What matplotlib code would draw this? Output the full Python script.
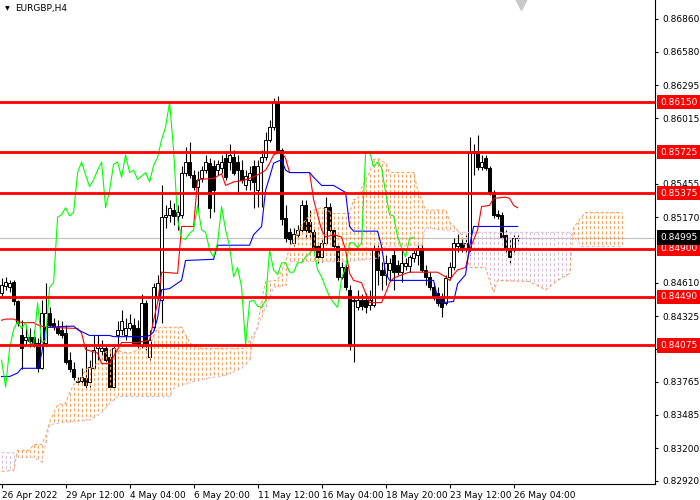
import numpy as np
import matplotlib
matplotlib.use("Agg")
import matplotlib.pyplot as plt
from matplotlib.transforms import blended_transform_factory

# EURGBP H4 with Ichimoku
opens = [
    .8452, .8458, .8457, .8462, .8445, .8416, .8412, .8415, .8415, .8410,
    .8388, .8410, .8435, .8427, .8423, .8421, .8418, .8395, .8387, .8376,
    .8377, .8380, .8376, .8388, .8405, .8403, .8405, .8398, .8372, .8416,
    .8421, .8416, .8422, .8425, .8422, .8407, .8444, .8398, .8423, .8449,
    .8446, .8517, .8519, .8523, .8518, .8519, .8555, .8564, .8553, .8543,
    .8550, .8557, .8563, .8561, .8557, .8559, .8567, .8564, .8568, .8564,
    .8557, .8544, .8549, .8561, .8540, .8564, .8568, .8583, .8594, .8615,
    .8574, .8516, .8504, .8495, .8502, .8506, .8527, .8513, .8504, .8492,
    .8483, .8495, .8526, .8506, .8492, .8466, .8474, .8455, .8446, .8440,
    .8446, .8446, .8442, .8442, .8489, .8472, .8468, .8472, .8485, .8476,
    .8470, .8475, .8475, .8482, .8485, .8491, .8472, .8466, .8457, .8452,
    .8449, .8444, .8466, .8474, .8492, .8495, .8491, .8491, .8572, .8573,
    .8560, .8567, .8559, .8538, .8520, .8519, .8502, .8491, .8491, .8499,
]
closes = [
    .8459, .8462, .8461, .8445, .8427, .8405, .8415, .8411, .8410, .8388,
    .8435, .8435, .8425, .8423, .8418, .8416, .8393, .8387, .8381, .8377,
    .8381, .8374, .8389, .8404, .8408, .8405, .8395, .8372, .8405, .8421,
    .8428, .8422, .8427, .8410, .8408, .8444, .8410, .8412, .8457, .8461,
    .8517, .8519, .8525, .8518, .8521, .8555, .8564, .8553, .8543, .8549,
    .8557, .8564, .8525, .8540, .8562, .8564, .8551, .8570, .8555, .8557,
    .8549, .8552, .8555, .8547, .8561, .8568, .8583, .8594, .8615, .8574,
    .8515, .8499, .8498, .8503, .8506, .8527, .8506, .8504, .8489, .8483,
    .8495, .8526, .8506, .8492, .8466, .8474, .8457, .8408, .8445, .8446,
    .8441, .8440, .8446, .8489, .8472, .8468, .8478, .8478, .8470, .8470,
    .8478, .8478, .8483, .8486, .8491, .8472, .8466, .8457, .8449, .8444,
    .8440, .8465, .8474, .8495, .8495, .8491, .8495, .8572, .8573, .8560,
    .8564, .8559, .8538, .8519, .8518, .8500, .8491, .8483, .8499, .84995,
]
highs = [
    .8465, .8466, .8463, .8463, .8446, .8429, .8425, .8422, .8421, .8414,
    .8446, .8461, .8440, .8431, .8429, .8428, .8425, .8402, .8393, .8381,
    .8388, .8408, .8395, .8416, .8416, .8412, .8408, .8404, .8408, .8428,
    .8438, .8431, .8434, .8431, .8429, .8451, .8446, .8421, .8461, .8468,
    .8544, .8527, .8532, .8529, .8527, .8561, .8577, .8581, .8557, .8556,
    .8561, .8570, .8567, .8566, .8566, .8570, .8573, .8579, .8574, .8570,
    .8566, .8557, .8561, .8566, .8566, .8574, .8590, .8600, .8619, .8620,
    .8576, .8527, .8508, .8508, .8510, .8532, .8532, .8523, .8508, .8496,
    .8498, .8534, .8529, .8508, .8493, .8479, .8477, .8459, .8449, .8455,
    .8451, .8452, .8455, .8493, .8493, .8479, .8485, .8482, .8489, .8480,
    .8489, .8482, .8485, .8489, .8493, .8493, .8476, .8470, .8461, .8457,
    .8452, .8468, .8479, .8499, .8503, .8499, .8502, .8585, .8579, .8587,
    .8570, .8570, .8561, .8540, .8523, .8521, .8506, .8498, .8502, .8502,
]
lows = [
    .8450, .8455, .8453, .8442, .8424, .8387, .8408, .8406, .8406, .8385,
    .8387, .8407, .8423, .8421, .8416, .8414, .8392, .8385, .8378, .8374,
    .8375, .8371, .8372, .8387, .8395, .8399, .8393, .8371, .8371, .8408,
    .8416, .8412, .8421, .8408, .8405, .8405, .8404, .8395, .8421, .8446,
    .8427, .8508, .8513, .8510, .8506, .8516, .8552, .8550, .8540, .8523,
    .8547, .8555, .8516, .8521, .8553, .8555, .8549, .8557, .8553, .8538,
    .8546, .8540, .8540, .8525, .8526, .8526, .8566, .8581, .8591, .8572,
    .8510, .8496, .8494, .8492, .8499, .8504, .8498, .8498, .8487, .8478,
    .8479, .8493, .8504, .8489, .8463, .8464, .8455, .8404, .8393, .8438,
    .8438, .8435, .8438, .8440, .8459, .8455, .8459, .8463, .8455, .8468,
    .8462, .8472, .8470, .8479, .8476, .8470, .8459, .8455, .8446, .8441,
    .8432, .8442, .8463, .8472, .8487, .8487, .8487, .8485, .8553, .8557,
    .8557, .8557, .8536, .8516, .8515, .8498, .8487, .8476, .8487, .8497,
]

bid = 0.84995
levels = [0.86150, 0.85725, 0.85375, 0.84900, 0.84490, 0.84075]
price_ticks = [0.86860, 0.86580, 0.86295, 0.86015, 0.85455, 0.85170, 0.84610,
               0.84325, 0.84045, 0.83765, 0.83485, 0.83200, 0.82920]
time_labels = ["26 Apr 2022", "29 Apr 12:00", "4 May 04:00", "6 May 20:00",
               "11 May 12:00", "16 May 04:00", "18 May 20:00", "23 May 12:00",
               "26 May 04:00"]
time_bars = [0, 16, 32, 48, 64, 80, 96, 112, 128]

# Ichimoku lines (bar index, price)
tenkan_bar = [0, 1, 3, 5, 8, 9, 11, 19, 20, 21, 24, 25, 27, 28, 30, 34, 37, 38, 39, 40,
              44, 45, 48, 49, 53, 55, 56, 58, 60, 62, 64, 66, 67, 68, 70, 71, 72, 77, 78, 80,
              81, 83, 85, 86, 87, 88, 90, 91, 92, 95, 96, 97, 98, 101, 102, 109, 111, 112, 113, 114,
              116, 117, 119, 120, 122, 123, 126, 127, 128, 129]
tenkan_val = [.8429, .8430, .8430, .8427, .8427, .8425, .8423, .8422, .8418, .8404,
              .8401, .8392, .8392, .8398, .8410, .8410, .8412, .8429, .8444, .8470,
              .8469, .8509, .8509, .8549, .8550, .8554, .8544, .8547, .8548, .8550,
              .8553, .8557, .8563, .8570, .8573, .8567, .8555, .8555, .8532, .8506,
              .8500, .8502, .8500, .8489, .8469, .8463, .8461, .8452, .8444, .8444,
              .8452, .8461, .8465, .8469, .8470, .8470, .8466, .8463, .8468, .8472,
              .8474, .8489, .8506, .8526, .8527, .8533, .8534, .8533, .8527, .8525]
kijun_bar = [0, 2, 4, 5, 9, 10, 11, 18, 19, 22, 27, 28, 36, 37, 38, 39, 40, 42, 45, 46,
             53, 54, 62, 63, 65, 66, 67, 68, 70, 71, 72, 77, 78, 80, 83, 86, 87, 88, 94, 95,
             96, 97, 108, 109, 110, 113, 114, 116, 117, 118, 129]
kijun_val = [.8381, .8381, .8384, .8388, .8388, .8400, .8423, .8424, .8421, .8416,
             .8416, .8415, .8415, .8416, .8419, .8431, .8455, .8456, .8463, .8480,
             .8481, .8493, .8493, .8502, .8509, .8540, .8551, .8563, .8566, .8557,
             .8555, .8555, .8551, .8544, .8544, .8538, .8509, .8505, .8505, .8492,
             .8469, .8463, .8463, .8448, .8444, .8445, .8460, .8468, .8492, .8509, .8509]
span_a_bar = [0, 3, 4, 7, 8, 10, 11, 12, 14, 16, 17, 18, 20, 21, 23, 24, 26, 28, 30, 32,
              35, 37, 38, 39, 40, 45, 47, 48, 50, 61, 62, 64, 65, 66, 69, 71, 72, 75, 78, 80,
              83, 87, 88, 89, 90, 92, 93, 94, 96, 97, 103, 104, 106, 111, 112, 115, 117, 121, 122, 123,
              124, 132, 136, 139, 142, 143, 145, 146, 155]
span_a_val = [.8300, .8301, .8318, .8318, .8323, .8323, .8330, .8342, .8357, .8358,
              .8367, .8374, .8380, .8387, .8389, .8393, .8402, .8405, .8402, .8401,
              .8405, .8408, .8415, .8422, .8423, .8423, .8410, .8407, .8405, .8405,
              .8412, .8422, .8446, .8462, .8463, .8479, .8491, .8510, .8523, .8525,
              .8520, .8520, .8532, .8532, .8542, .8555, .8566, .8567, .8563, .8555,
              .8555, .8540, .8523, .8523, .8513, .8502, .8474, .8474, .8463, .8453,
              .8463, .8462, .8455, .8463, .8469, .8508, .8517, .8521, .8521]
span_b_bar = [0, 3, 4, 8, 10, 11, 12, 16, 22, 25, 27, 29, 42, 43, 46, 52, 55, 58, 60, 62,
              63, 66, 68, 71, 72, 86, 94, 96, 105, 106, 115, 142, 145, 155]
span_b_val = [.8316, .8316, .8312, .8312, .8308, .8324, .8340, .8342, .8344, .8350,
              .8358, .8364, .8364, .8371, .8375, .8380, .8381, .8385, .8388, .8395,
              .8415, .8440, .8457, .8459, .8479, .8479, .8482, .8492, .8493, .8508,
              .8504, .8504, .8492, .8492]
chikou_shift = 26

ORANGE = "#F4A460"
THISTLE = "#D8BFD8"
DOT_LW = 0.75

fig = plt.figure(figsize=(7, 5), dpi=100)
ax = fig.add_axes([0, 16 / 500, 655 / 700, 484 / 500])
ax.set_xlim(-0.4, 163.35)
ax.set_ylim(0.82893, 0.87022)

o = np.array(opens)
c = np.array(closes)
h = np.array(highs)
l = np.array(lows)
bars = np.arange(len(c))
up = c >= o

# candles
ax.vlines(bars, l, h, color="black", lw=0.8, zorder=2)
ax.bar(bars[up], (c - o)[up], bottom=o[up], width=0.6,
       facecolor="white", edgecolor="black", lw=0.7, zorder=3)
ax.bar(bars[~up], (o - c)[~up], bottom=c[~up], width=0.6,
       facecolor="black", edgecolor="black", lw=0.7, zorder=3)

# kumo, dotted columns like the terminal draws it
cb = np.arange(0, span_a_bar[-1] + 1)
sa = np.interp(cb, span_a_bar, span_a_val)
sb = np.interp(cb, span_b_bar, span_b_val)
lo = np.minimum(sa, sb)
hi = np.maximum(sa, sb)
cols = [ORANGE if a >= b else THISTLE for a, b in zip(sa, sb)]
# keep the dashes of all columns on the same rows
period = 5 * DOT_LW
lo_pt = ax.transData.transform(np.column_stack([cb, lo]))[:, 1] * 72 / fig.dpi
styles = [((y % period) / DOT_LW, (3, 2)) for y in lo_pt]
ax.vlines(cb, lo, hi, colors=cols, lw=DOT_LW, linestyles=styles, zorder=4)
ax.plot(span_a_bar, span_a_val, color=ORANGE, lw=DOT_LW, ls=(0, (3, 2)), zorder=4)
ax.plot(span_b_bar, span_b_val, color=THISTLE, lw=DOT_LW, ls=(0, (3, 2)), zorder=4)

ax.plot(tenkan_bar, tenkan_val, color="red", lw=0.8, zorder=5)
ax.plot(kijun_bar, kijun_val, color="blue", lw=0.8, zorder=5)
ax.plot(bars[:len(c) - chikou_shift], c[chikou_shift:], color="lime", lw=0.8, zorder=5)

ax.axhline(bid, color="#C0C0C0", lw=0.8, zorder=1.5)
for lv in levels:
    ax.axhline(lv, color="red", lw=2.0, zorder=6)

# axes look
for s in ["top", "left"]:
    ax.spines[s].set_visible(False)
for s in ["right", "bottom"]:
    ax.spines[s].set_linewidth(0.8)
ax.yaxis.tick_right()
ax.set_yticks(price_ticks)
ax.set_yticklabels([f"{v:.5f}" for v in price_ticks], fontsize=6.5)
ax.tick_params(axis="y", direction="out", length=2.5, width=0.8, pad=2.5)
ax.set_xticks(time_bars)
ax.set_xticklabels(time_labels, fontsize=6.5)
plt.setp(ax.get_xticklabels(), ha="left")
ax.tick_params(axis="x", direction="out", length=3, width=0.8, pad=2)

tr = blended_transform_factory(ax.transAxes, ax.transData)
for lv in levels:
    ax.text(1 + 5 / 655, lv, f"{lv:.5f}", transform=tr, color="white", fontsize=6.5,
            va="center", ha="left", zorder=10, clip_on=False,
            bbox=dict(boxstyle="square,pad=0.3", fc="red", ec="none"))
ax.text(1 + 5 / 655, bid, f"{bid:.5f}", transform=tr, color="white", fontsize=6.5,
        va="center", ha="left", zorder=10, clip_on=False,
        bbox=dict(boxstyle="square,pad=0.3", fc="black", ec="none"))

ax.plot([521 / 655], [0.992], marker="v", color="#C8C8C8", ms=8,
        transform=ax.transAxes, clip_on=False, zorder=10)

fig.text(5 / 700, 1 - 9 / 500, "\u25bc", fontsize=4.5, va="center", ha="left")
fig.text(15 / 700, 1 - 9 / 500, "EURGBP,H4", fontsize=6.5, va="center", ha="left")

fig.savefig("out.png", dpi=100)
